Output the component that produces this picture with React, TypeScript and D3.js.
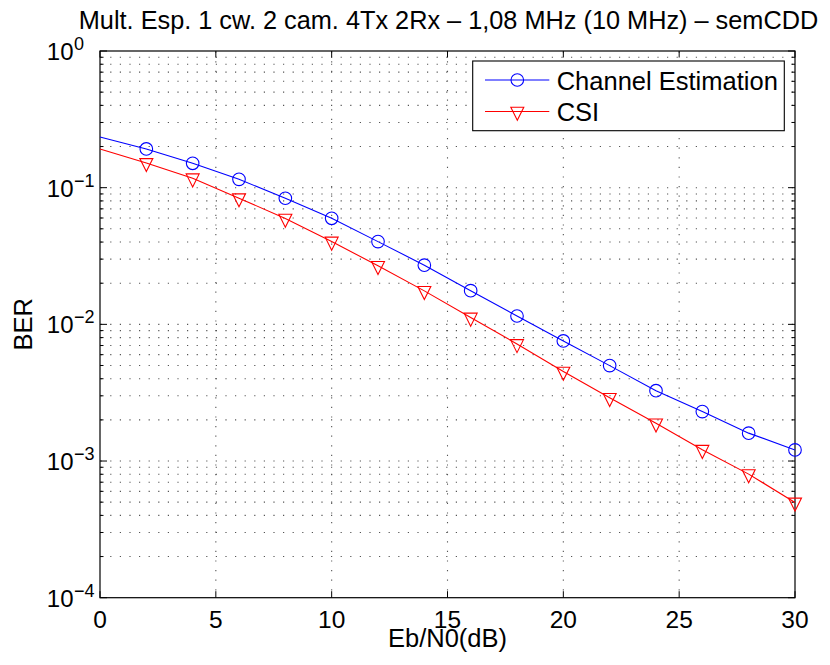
import React from "react";
import * as d3 from "d3";

const ebn0 = [0, 2, 4, 6, 8, 10, 12, 14, 16, 18, 20, 22, 24, 26, 28, 30];
const berChannelEst = [0.235, 0.192, 0.1508, 0.1151, 0.0837, 0.0597, 0.0403, 0.0271, 0.01764, 0.01151, 0.00756, 0.00499, 0.00327, 0.0023, 0.0016, 0.001206];
const berCSI = [0.192, 0.1518, 0.1173, 0.0838, 0.0595, 0.0404, 0.0268, 0.01758, 0.01123, 0.00719, 0.00452, 0.0029, 0.00189, 0.00121, 0.000802, 0.000498];
const xTicks = [0, 5, 10, 15, 20, 25, 30];
const yExponents = [0, -1, -2, -3, -4];
const seriesNames = ["Channel Estimation", "CSI"];
const title = "Mult. Esp. 1 cw. 2 cam. 4Tx 2Rx \u2013 1,08 MHz (10 MHz) \u2013 semCDD";
const xLabel = "Eb/N0(dB)";
const yLabel = "BER";

const W = 830, H = 665;
const L = 100, R = 795, T = 51, B = 597.7;
const FONT = "'Liberation Sans', Arial, Helvetica, sans-serif";

export default function App() {
  const x = d3.scaleLinear().domain([0, 30]).range([L, R]);
  const y = d3.scaleLog().domain([1e-4, 1]).range([B, T]);

  const minorVals: number[] = [];
  for (let e = -4; e < 0; e++) for (let m = 2; m <= 9; m++) minorVals.push(m * Math.pow(10, e));

  const line = d3.line<[number, number]>().x(d => x(d[0])).y(d => y(d[1]));
  const blueData = ebn0.map((v, i) => [v, berChannelEst[i]] as [number, number]);
  const redData = ebn0.map((v, i) => [v, berCSI[i]] as [number, number]);

  const grid = { stroke: "#555", strokeWidth: 1.1, strokeDasharray: "1.2 8.4", strokeDashoffset: -10.2, fill: "none" } as const;

  const tri = (cx: number, cy: number) =>
    `M${cx - 6.5},${cy - 4.3}L${cx + 6.5},${cy - 4.3}L${cx},${cy + 8.7}Z`;

  return (
    <svg width={W} height={H} style={{ position: "absolute", left: 0, top: 0, background: "#fff" }} fontFamily={FONT}>
      <rect x={0} y={0} width={W} height={H} fill="#fff" />
      {/* grid */}
      {xTicks.slice(1, -1).map(t => (
        <line key={"gx" + t} x1={x(t)} x2={x(t)} y1={T} y2={B} {...grid} />
      ))}
      {yExponents.slice(1, -1).map(e => (
        <line key={"gy" + e} x1={L} x2={R} y1={y(Math.pow(10, e))} y2={y(Math.pow(10, e))} {...grid} />
      ))}
      {minorVals.map(v => (
        <line key={"gm" + v} x1={L} x2={R} y1={y(v)} y2={y(v)} {...grid} />
      ))}
      {/* ticks */}
      {xTicks.map(t => (
        <g key={"tx" + t} stroke="#000" strokeWidth={1}>
          <line x1={x(t)} x2={x(t)} y1={B} y2={B - 6.5} />
          <line x1={x(t)} x2={x(t)} y1={T} y2={T + 6.5} />
        </g>
      ))}
      {yExponents.map(e => (
        <g key={"ty" + e} stroke="#000" strokeWidth={1}>
          <line x1={L} x2={L + 7} y1={y(Math.pow(10, e))} y2={y(Math.pow(10, e))} />
          <line x1={R} x2={R - 7} y1={y(Math.pow(10, e))} y2={y(Math.pow(10, e))} />
        </g>
      ))}
      {minorVals.map(v => (
        <g key={"tm" + v} stroke="#000" strokeWidth={1}>
          <line x1={L} x2={L + 3.5} y1={y(v)} y2={y(v)} />
          <line x1={R} x2={R - 3.5} y1={y(v)} y2={y(v)} />
        </g>
      ))}
      {/* axes box */}
      <rect x={L} y={T} width={R - L} height={B - T} fill="none" stroke="#000" strokeWidth={1.2} />
      {/* tick labels */}
      {xTicks.map(t => (
        <text key={"lx" + t} x={x(t)} y={627.5} textAnchor="middle" fontSize={24.5} fill="#000">{t}</text>
      ))}
      {yExponents.map(e => (
        <g key={"ly" + e}>
          <text x={73.5} y={y(Math.pow(10, e)) + 9} textAnchor="end" fontSize={24} fill="#000">10</text>
          <text x={74} y={y(Math.pow(10, e)) - 1} textAnchor="start" fontSize={18} fill="#000">
            {e < 0 ? "\u2212" + Math.abs(e) : String(e)}
          </text>
        </g>
      ))}
      {/* series */}
      <path d={line(blueData) || ""} fill="none" stroke="#0000ff" strokeWidth={1.1} />
      <path d={line(redData) || ""} fill="none" stroke="#ff0000" strokeWidth={1.1} />
      {blueData.slice(1).map(d => (
        <circle key={"bc" + d[0]} cx={x(d[0])} cy={y(d[1])} r={6.3} fill="none" stroke="#0000ff" strokeWidth={1.1} />
      ))}
      {redData.slice(1).map(d => (
        <path key={"rt" + d[0]} d={tri(x(d[0]), y(d[1]))} fill="none" stroke="#ff0000" strokeWidth={1.1} />
      ))}
      {/* legend */}
      <rect x={472.7} y={61} width={311.6} height={69.7} fill="#fff" stroke="#000" strokeWidth={1.1} />
      <line x1={485} x2={549.3} y1={80} y2={80} stroke="#0000ff" strokeWidth={1.1} />
      <circle cx={517.3} cy={80} r={6.3} fill="none" stroke="#0000ff" strokeWidth={1.1} />
      <text x={556.7} y={89.5} fontSize={25.5} fill="#000">{seriesNames[0]}</text>
      <line x1={485} x2={549.3} y1={111.5} y2={111.5} stroke="#ff0000" strokeWidth={1.1} />
      <path d={tri(517.3, 111.5)} fill="none" stroke="#ff0000" strokeWidth={1.1} />
      <text x={556.7} y={121} fontSize={25.5} fill="#000">{seriesNames[1]}</text>
      {/* title and labels */}
      <text x={(L + R) / 2 + 1} y={29} textAnchor="middle" fontSize={25.3} fill="#000">{title}</text>
      <text x={(L + R) / 2} y={647} textAnchor="middle" fontSize={25.5} fill="#000">{xLabel}</text>
      <text transform={`translate(31.5, ${(T + B) / 2}) rotate(-90)`} textAnchor="middle" fontSize={25.5} fill="#000">{yLabel}</text>
    </svg>
  );
}
